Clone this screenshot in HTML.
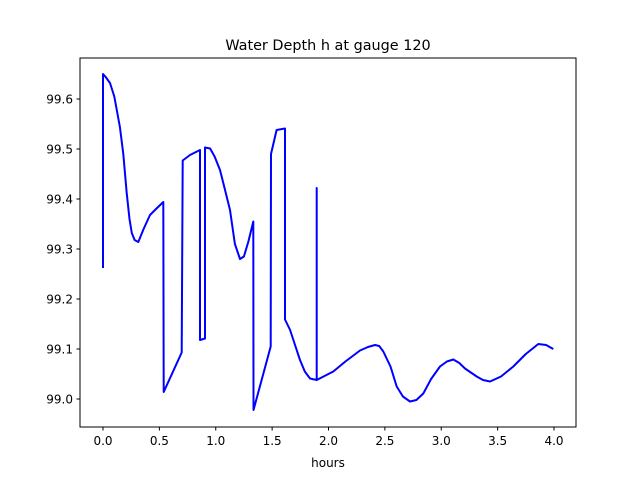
<!DOCTYPE html>
<html><head><meta charset="utf-8"><style>
body{margin:0;background:#fff;}
svg{font-family:"DejaVu Sans","Liberation Sans",sans-serif;}
</style></head><body>
<svg id="chart" width="640" height="480" xmlns="http://www.w3.org/2000/svg">
<rect width="640" height="480" fill="#fff"/>
<text x="328" y="50" font-size="14.4" text-anchor="middle">Water Depth h at gauge 120</text>
<text x="328" y="467" font-size="12" text-anchor="middle">hours</text>
<g id="ticks"></g>
<path id="line" fill="none" stroke="#0000ff" stroke-width="2" stroke-linejoin="round"/>
<rect x="80" y="58" width="496" height="369" fill="none" stroke="#000" stroke-width="1"/>
</svg>
<script>
const hours=[0,0,0.02,0.062,0.1,0.15,0.18,0.21,0.235,0.255,0.28,0.313,0.36,0.417,0.47,0.535,0.538,0.698,0.707,0.772,0.86,0.86,0.905,0.905,0.95,0.99,1.038,1.08,1.126,1.17,1.215,1.25,1.29,1.333,1.335,1.487,1.49,1.54,1.614,1.614,1.659,1.70,1.747,1.79,1.836,1.895,1.895,1.895,2.043,2.15,2.279,2.35,2.412,2.45,2.486,2.55,2.605,2.66,2.723,2.78,2.841,2.91,2.989,3.05,3.107,3.16,3.211,3.314,3.37,3.432,3.53,3.639,3.75,3.861,3.93,3.994];
const depth=[99.262,99.65,99.645,99.632,99.605,99.544,99.49,99.412,99.36,99.332,99.318,99.314,99.34,99.368,99.38,99.394,99.014,99.093,99.477,99.488,99.498,99.118,99.121,99.503,99.501,99.485,99.458,99.42,99.378,99.31,99.28,99.285,99.315,99.355,98.978,99.105,99.49,99.538,99.541,99.159,99.138,99.11,99.078,99.055,99.041,99.038,99.422,99.038,99.055,99.075,99.097,99.104,99.108,99.106,99.095,99.065,99.025,99.005,98.995,98.998,99.011,99.04,99.065,99.075,99.079,99.072,99.061,99.045,99.038,99.035,99.045,99.065,99.09,99.110,99.108,99.100];
const xTicks=[0,0.5,1,1.5,2,2.5,3,3.5,4];
const yTicks=[99.0,99.1,99.2,99.3,99.4,99.5,99.6];
const X=h=>103+h*112.75;
const Y=v=>399-(v-99)*500;
const ns="http://www.w3.org/2000/svg";
const g=document.getElementById('ticks');
xTicks.forEach(t=>{
  const l=document.createElementNS(ns,'line');
  
  
  l.setAttribute('x1',X(t));l.setAttribute('x2',X(t));l.setAttribute('y1',427);l.setAttribute('y2',430.5);l.setAttribute('stroke','#000');
  g.appendChild(l);
  const tx=document.createElementNS(ns,'text');
  
  
  tx.setAttribute('x',X(t));tx.setAttribute('y',445);tx.setAttribute('font-size','12');tx.setAttribute('text-anchor','middle');
  tx.textContent=t.toFixed(1);g.appendChild(tx);
});
yTicks.forEach(t=>{
  const l=document.createElementNS(ns,'line');
  
  
  l.setAttribute('x1',76.5);l.setAttribute('x2',80);l.setAttribute('y1',Y(t));l.setAttribute('y2',Y(t));l.setAttribute('stroke','#000');
  g.appendChild(l);
  const tx=document.createElementNS(ns,'text');
  
  
  tx.setAttribute('x',73);tx.setAttribute('y',Y(t)+4.5);tx.setAttribute('font-size','12');tx.setAttribute('text-anchor','end');
  tx.textContent=t.toFixed(1);g.appendChild(tx);
});
document.getElementById('line').setAttribute('d',hours.map((h,i)=>(i?'L':'M')+X(h).toFixed(1)+','+Y(depth[i]).toFixed(1)).join(''));
</script>
</body></html>
